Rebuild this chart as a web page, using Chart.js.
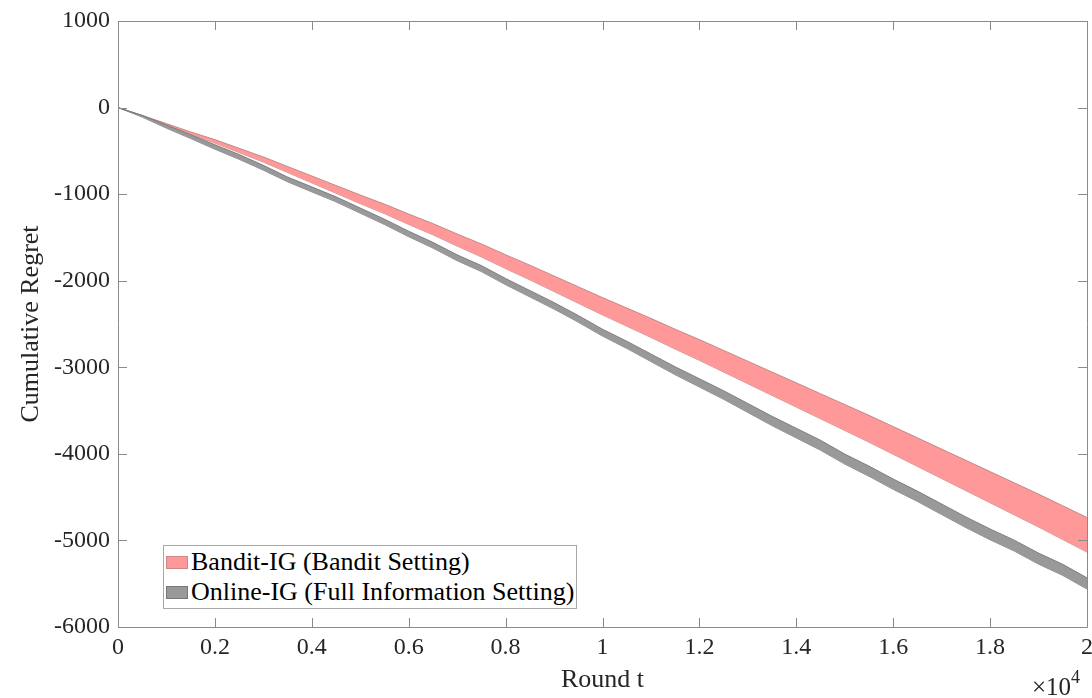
<!DOCTYPE html>
<html>
<head>
<meta charset="utf-8">
<script src="https://cdn.jsdelivr.net/npm/chart.js@4/dist/chart.umd.min.js"></script>
<style>
  html, body { margin: 0; padding: 0; background: #fff; }
  #wrap { position: relative; width: 1092px; height: 698px; }
  canvas { position: absolute; left: 0; top: 0; }
  .serif { font-family: "Liberation Serif", "DejaVu Serif", serif; color: #000; }
  #legend { position: absolute; left: 163px; top: 545px; width: 412px; height: 61px;
            border: 1px solid #a8a8a8; background: #fff; font-size: 26px; line-height: 30px;
            padding-top: 1px; box-sizing: content-box; }
  #legend .row { display: flex; align-items: center; height: 30px; }
  #legend .sw { width: 22px; height: 13px; margin-left: 2px; margin-right: 3px; box-sizing: border-box; }
  #mult { position: absolute; left: 1032px; top: 665px; font-size: 25px; line-height: 30px; white-space: nowrap; color: #262626; }
  #mult sup { font-size: 18px; position: relative; top: -3px; }
</style>
</head>
<body>
<div id="wrap">
  <canvas id="c" width="1092" height="698"></canvas>
  <div id="legend" class="serif">
    <div class="row"><span class="sw" style="background:#ff9999;border:1px solid #c88;"></span><span>Bandit-IG (Bandit Setting)</span></div>
    <div class="row"><span class="sw" style="background:#999999;border:1px solid #777;"></span><span>Online-IG (Full Information Setting)</span></div>
  </div>
  <div id="mult" class="serif">&times;10<sup>4</sup></div>
</div>
<script>
const roundT = [0,500,1000,1500,2000,2500,3000,3500,4000,4500,5000,5500,6000,6500,7000,7500,8000,8500,9000,9500,10000,10500,11000,11500,12000,12500,13000,13500,14000,14500,15000,15500,16000,16500,17000,17500,18000,18500,19000,19500,20000];

const banditUpper = [0,-90,-185,-281,-370,-470,-570,-680,-790,-900,-1010,-1115,-1230,-1340,-1460,-1575,-1700,-1820,-1945,-2070,-2195,-2315,-2435,-2560,-2680,-2805,-2930,-3055,-3180,-3305,-3430,-3555,-3685,-3815,-3945,-4075,-4205,-4335,-4465,-4600,-4735];
const banditLower = [0,-100,-205,-309,-410,-520,-630,-750,-870,-990,-1110,-1225,-1350,-1470,-1600,-1725,-1860,-1990,-2125,-2260,-2395,-2525,-2655,-2790,-2920,-3055,-3190,-3325,-3460,-3595,-3730,-3865,-4005,-4145,-4285,-4425,-4565,-4705,-4845,-4990,-5135];

const onlineUpper = [0,-90,-202,-313,-429,-542,-667,-802,-916,-1031,-1160,-1289,-1428,-1557,-1701,-1825,-1974,-2113,-2252,-2401,-2560,-2698,-2846,-2994,-3132,-3270,-3418,-3566,-3704,-3842,-4002,-4141,-4290,-4430,-4579,-4728,-4867,-4997,-5146,-5276,-5432];
const onlineLower = [0,-110,-238,-357,-481,-598,-723,-858,-974,-1089,-1220,-1351,-1492,-1623,-1769,-1895,-2046,-2187,-2328,-2479,-2640,-2782,-2934,-3086,-3228,-3370,-3522,-3674,-3816,-3958,-4118,-4259,-4410,-4550,-4701,-4852,-4993,-5123,-5274,-5404,-5562];

const xTickValues = [0,2000,4000,6000,8000,10000,12000,14000,16000,18000,20000];
const xTickLabels = ["0","0.2","0.4","0.6","0.8","1","1.2","1.4","1.6","1.8","2"];
const yTickLabels = ["-6000","-5000","-4000","-3000","-2000","-1000","0","1000"];

const pts = arr => roundT.map((t, i) => ({x: t, y: arr[i]}));
const FONT = "'Liberation Serif', 'DejaVu Serif', serif";
const AXIS = '#8a8a8a';

const framePlugin = {
  id: 'frame',
  afterDatasetsDraw(chart) {
    const {ctx, chartArea: a, scales: {x, y}} = chart;
    ctx.save();
    ctx.strokeStyle = AXIS;
    ctx.lineWidth = 1;
    ctx.beginPath();
    ctx.rect(Math.round(a.left) + 0.5, Math.round(a.top) + 0.5, Math.round(a.right - a.left), Math.round(a.bottom - a.top));
    ctx.stroke();
    const L = 9;
    ctx.beginPath();
    x.ticks.forEach(t => {
      const px = Math.round(x.getPixelForValue(t.value)) + 0.5;
      ctx.moveTo(px, a.bottom); ctx.lineTo(px, a.bottom - L);
      ctx.moveTo(px, a.top); ctx.lineTo(px, a.top + L);
    });
    y.ticks.forEach(t => {
      const py = Math.round(y.getPixelForValue(t.value)) + 0.5;
      ctx.moveTo(a.left, py); ctx.lineTo(a.left + L, py);
      ctx.moveTo(a.right, py); ctx.lineTo(a.right - L, py);
    });
    ctx.stroke();
    ctx.restore();
  }
};

new Chart(document.getElementById('c'), {
  type: 'line',
  data: {
    datasets: [
      { label: 'Online-IG upper', data: pts(onlineUpper), borderColor: '#6e6e6e', borderWidth: 0.8, backgroundColor: '#999999', fill: '+1', pointRadius: 0, tension: 0 },
      { label: 'Online-IG lower', data: pts(onlineLower), borderColor: '#6e6e6e', borderWidth: 0.8, backgroundColor: '#999999', fill: false, pointRadius: 0, tension: 0 },
      { label: 'Bandit-IG upper', data: pts(banditUpper), borderColor: '#b57a7a', borderWidth: 0.8, backgroundColor: '#ff9999', fill: '+1', pointRadius: 0, tension: 0 },
      { label: 'Bandit-IG lower', data: pts(banditLower), borderColor: '#b57a7a', borderWidth: 0.8, backgroundColor: '#ff9999', fill: false, pointRadius: 0, tension: 0 }
    ]
  },
  options: {
    responsive: false,
    animation: false,
    layout: { padding: { left: 0, right: 5, top: 21, bottom: 0 } },
    plugins: { legend: { display: false }, tooltip: { enabled: false } },
    scales: {
      x: {
        type: 'linear', min: 0, max: 20000,
        afterBuildTicks: s => { s.ticks = xTickValues.map(v => ({value: v})); },
        ticks: {
          autoSkip: false, maxRotation: 0, padding: 6, color: '#262626',
          font: { family: FONT, size: 24 },
          callback: (v) => { const i = xTickValues.indexOf(v); return i >= 0 ? xTickLabels[i] : ''; }
        },
        grid: { display: true, drawOnChartArea: false, drawTicks: false, color: 'rgba(0,0,0,0)' },
        border: { display: false },
        title: { display: true, text: 'Round t', color: '#262626', font: { family: FONT, size: 26 }, padding: { top: 0, bottom: 2 } },
        afterFit: s => { s.height = 71; s.paddingLeft = 0; s.paddingRight = 0; }
      },
      y: {
        min: -6000, max: 1000,
        afterBuildTicks: s => { s.ticks = yTickLabels.map(l => ({value: Number(l)})); },
        ticks: {
          autoSkip: false, padding: 8, color: '#262626',
          font: { family: FONT, size: 24 },
          callback: (v) => { const i = yTickLabels.indexOf(String(v)); return i >= 0 ? yTickLabels[i] : ''; }
        },
        grid: { display: true, drawOnChartArea: false, drawTicks: false, color: 'rgba(0,0,0,0)' },
        border: { display: false },
        title: { display: true, text: 'Cumulative Regret', color: '#262626', font: { family: FONT, size: 26 }, padding: { top: 16, bottom: 0 } },
        afterFit: s => { s.width = 118; s.paddingTop = 0; s.paddingBottom = 0; }
      }
    }
  },
  plugins: [framePlugin]
});
</script>
</body>
</html>
